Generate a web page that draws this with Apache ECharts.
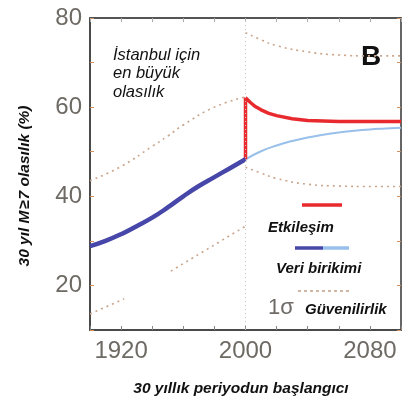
<!DOCTYPE html>
<html>
<head>
<meta charset="utf-8">
<script src="https://cdn.jsdelivr.net/npm/echarts@6/dist/echarts.min.js"></script>
<style>
  html, body { margin: 0; padding: 0; background: #fff; }
  #chart { width: 408px; height: 403px; }
</style>
</head>
<body>
<div id="chart"></div>
<script>
// years / values
var dataYears = [1900, 1910, 1920, 1930, 1940, 1950, 1960, 1970, 1980, 1990, 2000];
var dataValues = [28.8, 30.0, 31.5, 33.3, 35.2, 37.5, 40.0, 42.3, 44.3, 46.3, 48.3];

var accumYears = [2000, 2010, 2020, 2030, 2040, 2050, 2060, 2070, 2080, 2090, 2100];
var accumValues = [48.3, 50.1, 51.4, 52.4, 53.2, 53.8, 54.3, 54.7, 55.0, 55.2, 55.4];

var interYears = [2000, 2000, 2003, 2006, 2010, 2015, 2020, 2030, 2040, 2060, 2080, 2100];
var interValues = [48.3, 62.1, 61.1, 60.2, 59.4, 58.6, 58.1, 57.4, 57.0, 56.8, 56.8, 56.8];

var upLeftYears = [1900, 1920, 1940, 1950, 1960, 1980, 2000];
var upLeftValues = [43.5, 46.7, 51.2, 53.5, 56.0, 60.0, 62.3];

var upRightYears = [2000, 2010, 2020, 2040, 2060, 2080, 2100];
var upRightValues = [76.7, 75.1, 73.8, 72.4, 71.7, 71.5, 71.5];

var lowLeftYears = [1900, 1922, 1936, 1952, 1960, 1980, 2000];
var lowLeftValues = [13.6, 17.0, null, 23.2, 24.9, 29.1, 33.3];

var lowRightYears = [2000, 2010, 2020, 2040, 2060, 2080, 2100];
var lowRightValues = [46.5, 45.2, 44.0, 42.7, 42.3, 42.2, 42.2];

var xLabels = [1920, 2000, 2080];
var yLabels = [20, 40, 60, 80];
var splitYear = 2000;

function pairs(xs, ys) {
    var res = [];
    for (var i = 0; i < xs.length; i++) {
        res.push([xs[i], ys[i]]);
    }
    return res;
}

var chart = echarts.init(document.getElementById('chart'));

var tickLabel = { color: '#6e6a64', fontSize: 24, fontFamily: 'Liberation Sans' };
var dotStyle = { color: '#c9a58c', width: 1.6, type: [2, 4] };

var option = {
    animation: false,
    backgroundColor: '#fff',
    grid: { left: 90, top: 18, right: 7, bottom: 73 },
    xAxis: [{
        type: 'value',
        min: 1900, max: 2100, interval: 20,
        axisLine: { lineStyle: { color: '#4a4a4a', width: 2 } },
        axisTick: { inside: true, length: 4, lineStyle: { color: '#888' } },
        splitLine: { show: false },
        axisLabel: Object.assign({
            margin: 9,
            formatter: function (v) { return xLabels.indexOf(v) >= 0 ? String(v) : ''; }
        }, tickLabel)
    }, {
        type: 'value', position: 'top',
        min: 1900, max: 2100, interval: 20,
        axisLine: { show: true, lineStyle: { color: '#555', width: 2 } },
        axisTick: { inside: true, length: 4, lineStyle: { color: '#aaa' } },
        axisLabel: { show: false },
        splitLine: { show: false }
    }],
    yAxis: [{
        type: 'value',
        min: 10, max: 80, interval: 10,
        axisLine: { show: true, lineStyle: { color: '#4a4a4a', width: 2 } },
        axisTick: { show: true, inside: true, length: 4, lineStyle: { color: '#d09060' } },
        splitLine: { show: false },
        axisLabel: Object.assign({
            margin: 8,
            formatter: function (v) { return yLabels.indexOf(v) >= 0 ? String(v) : ''; }
        }, tickLabel)
    }, {
        type: 'value', position: 'right',
        min: 10, max: 80, interval: 10,
        axisLine: { show: true, lineStyle: { color: '#666', width: 2 } },
        axisTick: { show: true, inside: true, length: 4, lineStyle: { color: '#d09060' } },
        axisLabel: { show: false },
        splitLine: { show: false }
    }],
    series: [
        {
            type: 'line', data: pairs(upLeftYears, upLeftValues), symbol: 'none', smooth: true,
            lineStyle: dotStyle,
            markLine: {
                silent: true, symbol: 'none', label: { show: false },
                lineStyle: { color: '#c8c8c8', type: [1, 3], width: 1 },
                data: [{ xAxis: splitYear }]
            }
        },
        { type: 'line', data: pairs(upRightYears, upRightValues), symbol: 'none', smooth: true, lineStyle: dotStyle },
        { type: 'line', data: pairs(lowLeftYears, lowLeftValues), symbol: 'none', smooth: false, connectNulls: false, lineStyle: dotStyle },
        { type: 'line', data: pairs(lowRightYears, lowRightValues), symbol: 'none', smooth: true, lineStyle: dotStyle },
        { type: 'line', data: pairs(accumYears, accumValues), symbol: 'none', smooth: true, lineStyle: { color: '#98c0ea', width: 2 } },
        { type: 'line', data: pairs(interYears, interValues), symbol: 'none', smooth: false, lineStyle: { color: '#e82a2e', width: 3.5 } },
        { type: 'line', data: pairs(dataYears, dataValues), symbol: 'none', smooth: true, lineStyle: { color: '#4747a9', width: 4.5 } }
    ],
    graphic: [
        { type: 'text', left: 113, top: 46, style: { text: 'İstanbul için\nen büyük\nolasılık', font: 'italic 16.5px "Liberation Sans"', lineHeight: 18.5, fill: '#111' } },
        { type: 'text', left: 361, top: 43, style: { text: 'B', font: 'bold 28px "Liberation Sans"', fill: '#111' } },
        // legend samples
        { type: 'line', shape: { x1: 302, y1: 205, x2: 342, y2: 205 }, style: { stroke: '#e82a2e', lineWidth: 3.5 } },
        { type: 'text', left: 268, top: 220, style: { text: 'Etkileşim', font: 'italic bold 15px "Liberation Sans"', fill: '#111' } },
        { type: 'line', shape: { x1: 295, y1: 248, x2: 323, y2: 248 }, style: { stroke: '#4747a9', lineWidth: 3.5 } },
        { type: 'line', shape: { x1: 323, y1: 248, x2: 349, y2: 248 }, style: { stroke: '#98c0ea', lineWidth: 3.5 } },
        { type: 'text', left: 276, top: 261, style: { text: 'Veri birikimi', font: 'italic bold 15px "Liberation Sans"', fill: '#111' } },
        { type: 'line', shape: { x1: 298, y1: 291, x2: 349, y2: 291 }, style: { stroke: '#c9a58c', lineWidth: 1.6, lineDash: [3, 3] } },
        { type: 'text', left: 268, top: 297, style: { text: '1σ', font: '22px "Liberation Sans"', fill: '#6e6a66' } },
        { type: 'text', left: 305, top: 302, style: { text: 'Güvenilirlik', font: 'italic bold 15px "Liberation Sans"', fill: '#111', backgroundColor: '#fff' } },
        // axis titles
        { type: 'text', x: 241, y: 389, style: { text: '30 yıllık periyodun başlangıcı', font: 'italic bold 15.5px "Liberation Sans"', fill: '#111', textAlign: 'center', textVerticalAlign: 'middle' } },
        { type: 'text', x: 25, y: 186, rotation: Math.PI / 2, style: { text: '30 yıl M\u200A≥\u200A7 olasılık (%)', font: 'italic bold 15.5px "Liberation Sans"', fill: '#111', textAlign: 'center', textVerticalAlign: 'middle' } }
    ]
};

chart.setOption(option);
</script>
</body>
</html>
